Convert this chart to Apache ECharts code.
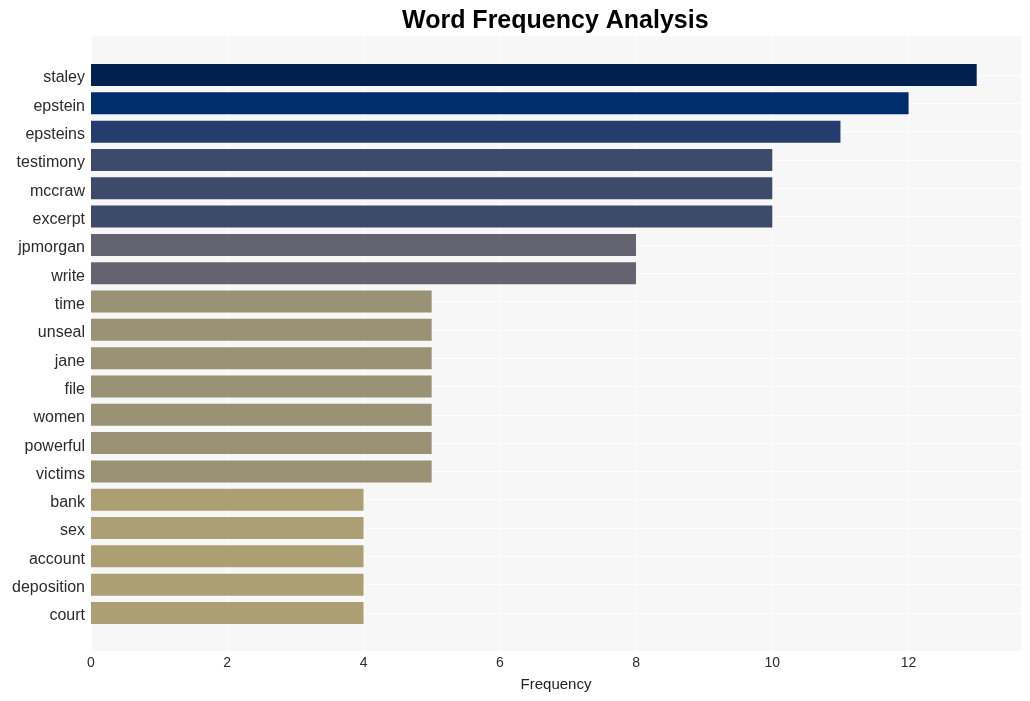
<!DOCTYPE html>
<html>
<head>
<meta charset="utf-8">
<script src="https://cdn.jsdelivr.net/npm/echarts@6/dist/echarts.min.js"></script>
<style>html,body{margin:0;padding:0;background:#fff}#c{width:1030px;height:701px}</style>
</head>
<body>
<div id="c"></div>
<script>
const categories = ["staley","epstein","epsteins","testimony","mccraw","excerpt","jpmorgan","write","time","unseal","jane","file","women","powerful","victims","bank","sex","account","deposition","court"];
const values = [13,12,11,10,10,10,8,8,5,5,5,5,5,5,5,4,4,4,4,4];
const barColors = ["#00214f","#002e6d","#253d6e","#3e4a6a","#3e4a6a","#3e4a6a","#63646f","#63646f","#999274","#999274","#999274","#999274","#999274","#999274","#999274","#ab9f73","#ab9f73","#ab9f73","#ab9f73","#ab9f73"];
const xTicks = [0,2,4,6,8,10,12];

const font = "'Liberation Sans', Arial, sans-serif";
const chart = echarts.init(document.getElementById('c'), null, {renderer:'canvas'});
chart.setOption({
  animation: false,
  title: {
    text: 'Word Frequency Analysis', left: 397, top: 4,
    textStyle: {fontFamily: font, fontSize: 25, fontWeight: 'bold', color: '#000'}
  },
  grid: [
    {left: 91, right: 9, top: 36, bottom: 50, show: true, backgroundColor: '#f7f7f7', borderWidth: 0},
    {left: 91, right: 9, top: 75, bottom: 88, show: false}
  ],
  xAxis: [
    {type: 'value', gridIndex: 0, min: 0, max: 13.65, interval: 2,
     axisLine: {show: false}, axisTick: {show: false},
     axisLabel: {fontFamily: font, fontSize: 14, color: '#2b2b2b', margin: 5,
       formatter: v => xTicks.includes(v) ? String(v) : ''},
     splitLine: {show: true, lineStyle: {color: '#ffffff', width: 1}},
     name: 'Frequency', nameLocation: 'middle', nameGap: 26,
     nameTextStyle: {fontFamily: font, fontSize: 15, color: '#222'}},
    {type: 'value', gridIndex: 1, min: 0, max: 13.65, show: false}
  ],
  yAxis: [
    {type: 'value', gridIndex: 0, show: false, min: 0, max: 1, splitLine: {show: false}},
    {type: 'category', gridIndex: 1, data: categories, inverse: true, boundaryGap: false,
     axisLine: {show: false}, axisTick: {show: false},
     axisLabel: {margin: 6, formatter: v => '{a|' + v + '}',
       rich: {a: {fontFamily: font, fontSize: 16, color: '#2b2b2b', padding: [6, 0, 0, 0]}}},
     splitLine: {show: true, lineStyle: {color: '#ffffff', width: 1}}}
  ],
  series: [{
    type: 'bar', xAxisIndex: 1, yAxisIndex: 1, barWidth: 22,
    data: values.map((v, i) => ({value: v, itemStyle: {color: barColors[i]}}))
  }]
});
</script>
</body>
</html>
